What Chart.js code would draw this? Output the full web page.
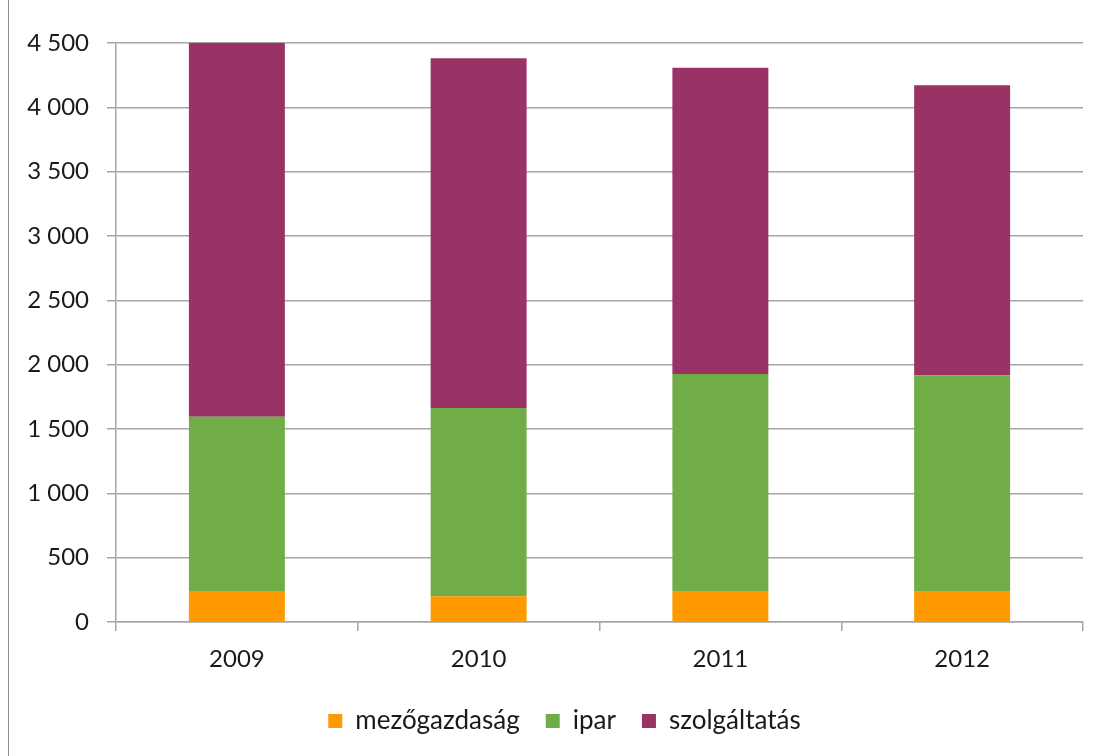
<!DOCTYPE html>
<html>
<head>
<meta charset="utf-8">
<script src="https://cdn.jsdelivr.net/npm/chart.js@4.4.0/dist/chart.umd.min.js"></script>
<style>
  html, body { margin: 0; padding: 0; background: #fff; }
  #wrap { position: relative; width: 1105px; height: 756px; }
  #edge { position: absolute; left: 8px; top: 0; width: 1px; height: 756px; background: #8c8c8c; }
  canvas { position: absolute; left: 0; top: 0; }
</style>
</head>
<body>
<div id="wrap">
  <div id="edge"></div>
  <canvas id="chart" width="1105" height="756"></canvas>
</div>
<script>
// évek és ágazatok (ezer fő)
const years = ['2009', '2010', '2011', '2012'];
const mezogazdasag = [240, 200, 235, 235];
const ipar         = [1355, 1464, 1693, 1682];
const szolgaltatas = [2905, 2717, 2380, 2255];

const yMin = 0, yMax = 4500, yStep = 500;

const fontFam = 'Lato, "Open Sans", sans-serif';
const txt = '#1a1a1a';
const gridCol = '#a6a6a6';

function fmt(v) {
  return String(v).replace(/\B(?=(\d{3})+(?!\d))/g, ' ');
}

// a jelmagyarázat a rajzterület közepéhez igazodik, ne a vászonéhoz
const legendShift = {
  id: 'legendShift',
  afterLayout(chart) {
    chart.legend.left += 23;
    chart.legend.right += 23;
  }
};

const ctx = document.getElementById('chart').getContext('2d');
new Chart(ctx, {
  type: 'bar',
  data: {
    labels: years,
    datasets: [
      { label: 'mezőgazdaság', data: mezogazdasag, backgroundColor: '#ff9900' },
      { label: 'ipar',         data: ipar,         backgroundColor: '#70ad47' },
      { label: 'szolgáltatás', data: szolgaltatas, backgroundColor: '#993366' }
    ]
  },
  plugins: [legendShift],
  options: {
    responsive: false,
    animation: false,
    layout: { padding: { top: 43, right: 22, left: 0, bottom: 12 } },
    datasets: { bar: { categoryPercentage: 1, barPercentage: 0.397, borderWidth: 0 } },
    plugins: {
      tooltip: { enabled: false },
      legend: {
        position: 'bottom',
        labels: {
          color: txt,
          font: { family: fontFam, size: 26 },
          boxWidth: 14, boxHeight: 14,
          padding: 26
        }
      }
    },
    scales: {
      x: {
        stacked: true,
        afterFit: s => { s.height = 60; },
        grid: { offset: true, drawOnChartArea: false, drawTicks: true, tickLength: 9, color: gridCol, lineWidth: 1.5 },
        border: { color: gridCol, width: 1.5 },
        ticks: { color: txt, font: { family: fontFam, size: 24 }, padding: 14 }
      },
      y: {
        stacked: true,
        min: yMin, max: yMax,
        afterFit: s => { s.width = 116; },
        grid: { color: gridCol, lineWidth: 1.5, tickLength: 9 },
        border: { color: gridCol, width: 1.5 },
        ticks: {
          stepSize: yStep,
          color: txt,
          font: { family: fontFam, size: 24 },
          padding: 18,
          callback: v => fmt(v)
        }
      }
    }
  }
});
</script>
</body>
</html>
